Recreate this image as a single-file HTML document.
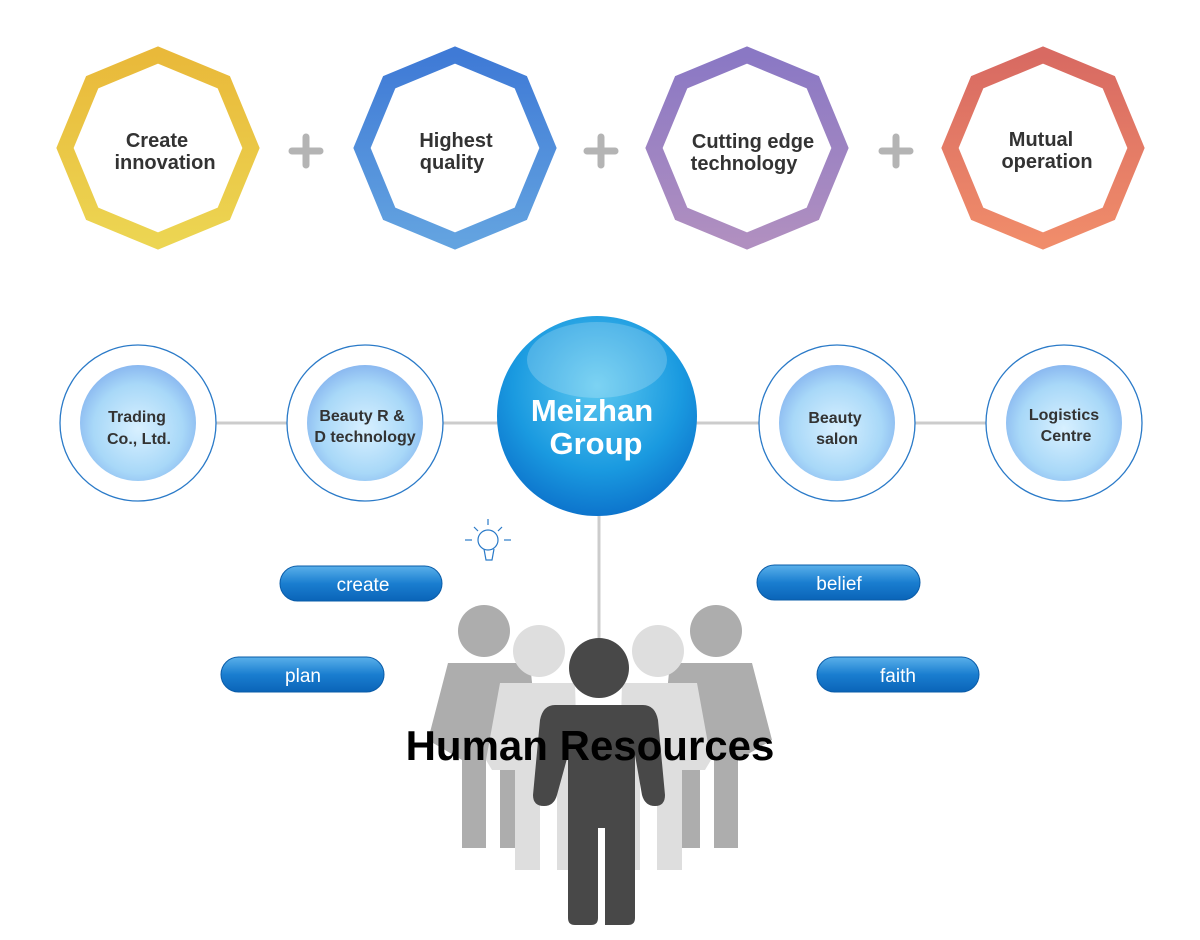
<!DOCTYPE html>
<html><head><meta charset="utf-8"><style>
html,body{margin:0;padding:0;background:#fff;}
svg{display:block;font-family:"Liberation Sans",sans-serif;}
</style></head><body>
<svg width="1200" height="940" viewBox="0 0 1200 940" xmlns="http://www.w3.org/2000/svg">
<defs>
<linearGradient id="gy" x1="0" y1="0" x2="0" y2="1"><stop offset="0" stop-color="#e9b93a"/><stop offset="1" stop-color="#ecd552"/></linearGradient>
<linearGradient id="gb" x1="0" y1="0" x2="0" y2="1"><stop offset="0" stop-color="#3f7ad6"/><stop offset="1" stop-color="#63a3e0"/></linearGradient>
<linearGradient id="gp" x1="0" y1="0" x2="0" y2="1"><stop offset="0" stop-color="#8a78c4"/><stop offset="1" stop-color="#b08fc0"/></linearGradient>
<linearGradient id="gr" x1="0" y1="0" x2="0" y2="1"><stop offset="0" stop-color="#d86a62"/><stop offset="1" stop-color="#f08c6a"/></linearGradient>
<radialGradient id="bub" cx="0.5" cy="0.55" r="0.55"><stop offset="0" stop-color="#d8f0ff"/><stop offset="0.7" stop-color="#a8d8f8"/><stop offset="1" stop-color="#8ab8f0"/></radialGradient>
<radialGradient id="big" cx="0.5" cy="0.35" r="0.7"><stop offset="0" stop-color="#5cc8f0"/><stop offset="0.6" stop-color="#1a9ae0"/><stop offset="1" stop-color="#0a6cc8"/></radialGradient>
<linearGradient id="pill" x1="0" y1="0" x2="0" y2="1"><stop offset="0" stop-color="#5ab0ea"/><stop offset="0.5" stop-color="#1a7ed0"/><stop offset="1" stop-color="#0a64b8"/></linearGradient>
</defs>

<g fill="none" stroke-width="16" stroke-linejoin="miter">
<polygon stroke="url(#gy)" points="158,55 223.8,82.2 251,148 223.8,213.8 158,241 92.2,213.8 65,148 92.2,82.2"/>
<polygon stroke="url(#gb)" points="455,55 520.8,82.2 548,148 520.8,213.8 455,241 389.2,213.8 362,148 389.2,82.2"/>
<polygon stroke="url(#gp)" points="747,55 812.8,82.2 840,148 812.8,213.8 747,241 681.2,213.8 654,148 681.2,82.2"/>
<polygon stroke="url(#gr)" points="1043,55 1108.8,82.2 1136,148 1108.8,213.8 1043,241 977.2,213.8 950,148 977.2,82.2"/>
</g>
<g stroke="#b4b4b4" stroke-width="7" stroke-linecap="round">
<line x1="292" y1="151" x2="320" y2="151"/><line x1="306" y1="137" x2="306" y2="165"/>
<line x1="587" y1="151" x2="615" y2="151"/><line x1="601" y1="137" x2="601" y2="165"/>
<line x1="882" y1="151" x2="910" y2="151"/><line x1="896" y1="137" x2="896" y2="165"/>
</g>
<g fill="#333" font-weight="bold" font-size="20" text-anchor="middle">
<text x="157" y="147">Create</text><text x="165" y="169">innovation</text>
<text x="456" y="147">Highest</text><text x="452" y="169">quality</text>
<text x="753" y="148">Cutting edge</text><text x="744" y="170">technology</text>
<text x="1041" y="146">Mutual</text><text x="1047" y="168">operation</text>
</g>

<g stroke="#ccc" stroke-width="3">
<line x1="215" y1="423" x2="990" y2="423"/>
<line x1="599" y1="500" x2="599" y2="640"/>
</g>
<g stroke="#2a7ac8" stroke-width="1.3" fill="#fff">
<circle cx="138" cy="423" r="78"/><circle cx="365" cy="423" r="78"/>
<circle cx="837" cy="423" r="78"/><circle cx="1064" cy="423" r="78"/>
</g>
<g fill="url(#bub)">
<circle cx="138" cy="423" r="58"/><circle cx="365" cy="423" r="58"/>
<circle cx="837" cy="423" r="58"/><circle cx="1064" cy="423" r="58"/>
</g>
<circle cx="597" cy="416" r="100" fill="url(#big)"/>
<ellipse cx="597" cy="360" rx="70" ry="38" fill="#fff" opacity="0.2"/>
<g fill="#333" font-weight="bold" font-size="16" text-anchor="middle">
<text x="137" y="422">Trading</text><text x="139" y="444">Co., Ltd.</text>
<text x="362" y="421">Beauty R &amp;</text><text x="365" y="442">D technology</text>
<text x="835" y="423">Beauty</text><text x="837" y="444">salon</text>
<text x="1064" y="420">Logistics</text><text x="1066" y="441">Centre</text>
</g>
<g fill="#fff" font-weight="bold" font-size="31" text-anchor="middle">
<text x="592" y="421">Meizhan</text><text x="596" y="454">Group</text>
</g>

<g stroke="#2a7ac8" stroke-width="1.2" fill="none">
<circle cx="488" cy="540" r="10"/><path d="M484 549 L486 560 H492 L494 549"/>
<line x1="465" y1="540" x2="472" y2="540"/><line x1="504" y1="540" x2="511" y2="540"/>
<line x1="488" y1="519" x2="488" y2="525"/><line x1="474" y1="527" x2="478" y2="531"/><line x1="502" y1="527" x2="498" y2="531"/>
</g>

<g>
<rect x="280" y="566" width="162" height="35" rx="17.5" fill="url(#pill)" stroke="#0a5ca8"/>
<rect x="221" y="657" width="163" height="35" rx="17.5" fill="url(#pill)" stroke="#0a5ca8"/>
<rect x="757" y="565" width="163" height="35" rx="17.5" fill="url(#pill)" stroke="#0a5ca8"/>
<rect x="817" y="657" width="162" height="35" rx="17.5" fill="url(#pill)" stroke="#0a5ca8"/>
</g>
<g fill="#fff" font-size="19" text-anchor="middle">
<text x="363" y="591">create</text><text x="303" y="682">plan</text>
<text x="839" y="590">belief</text><text x="898" y="682">faith</text>
</g>

<!-- people -->
<g fill="#adadad">
<circle cx="484" cy="631" r="26"/><circle cx="716" cy="631" r="26"/>
<path d="M448 663 H530 L540 760 H524 V848 H500 V760 H486 V848 H462 V760 L428 740 Z"/>
<path d="M752 663 H670 L660 760 H676 V848 H700 V760 H714 V848 H738 V760 L772 740 Z"/>
</g>
<g fill="#dedede">
<circle cx="539" cy="651" r="26"/><circle cx="658" cy="651" r="26"/>
<path d="M500 683 H575 L580 870 H557 V770 H540 V870 H515 V770 H492 L486 760 Z"/>
<path d="M697 683 H622 L617 870 H640 V770 H657 V870 H682 V770 H705 L711 760 Z"/>
</g>
<g fill="#484848">
<circle cx="599" cy="668" r="30"/>
<path d="M555 705 H643 Q655 705 658 720 L665 795 Q665 806 655 806 Q645 806 642 795 L635 755 V918 Q635 925 628 925 H605 V828 H598 V918 Q598 925 591 925 H575 Q568 925 568 918 V755 L557 795 Q554 806 544 806 Q533 806 533 795 L540 720 Q543 705 555 705 Z"/>
</g>
<text x="590" y="760" text-anchor="middle" font-weight="bold" font-size="42" fill="#000">Human Resources</text>
</svg>
</body></html>
